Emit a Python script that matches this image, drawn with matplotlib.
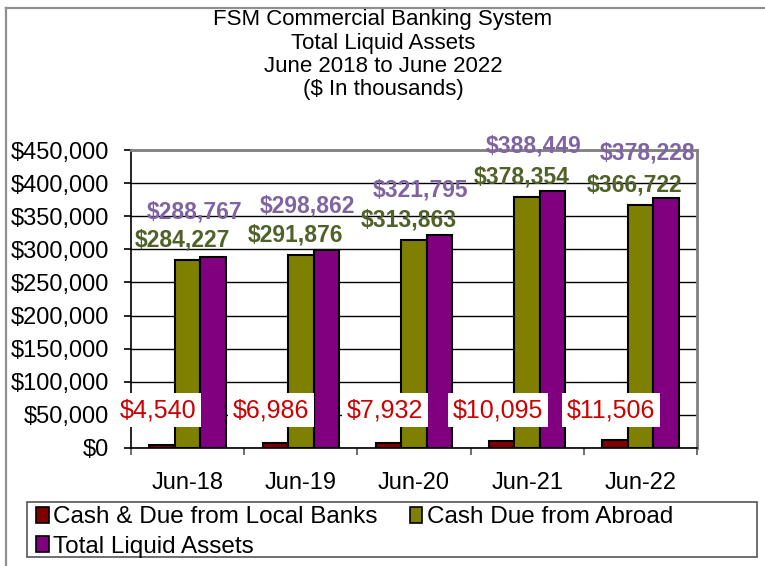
import numpy as np
import matplotlib
matplotlib.use('Agg')
import matplotlib.pyplot as plt
from matplotlib.ticker import FuncFormatter, MultipleLocator
from matplotlib.lines import Line2D
from matplotlib.patches import Rectangle, Patch

plt.rcParams['font.family'] = ['Liberation Sans', 'DejaVu Sans']

# Data (thousands of dollars)
periods = ['Jun-18', 'Jun-19', 'Jun-20', 'Jun-21', 'Jun-22']
cash_local = [4540, 6986, 7932, 10095, 11506]
cash_abroad = [284227, 291876, 313863, 378354, 366722]
total_liquid = [288767, 298862, 321795, 388449, 378228]

series_names = ['Cash & Due from Local Banks', 'Cash Due from Abroad', 'Total Liquid Assets']
bar_colors = ['#800000', '#808000', '#800080']
label_colors = ['#cc0000', '#4f6228', '#8064a2']
title_lines = ['FSM Commercial Banking System', 'Total Liquid Assets',
               'June 2018 to June 2022', '($ In thousands)']

W, H = 765, 566
fig = plt.figure(figsize=(W / 100, H / 100), dpi=100)
ax = fig.add_axes([131 / W, 1 - 448 / H, (697 - 131) / W, (448 - 150) / H])

x = np.arange(len(periods))
width = 0.225

ax.bar(x - width, cash_local, width, color=bar_colors[0], edgecolor='black', linewidth=1.5, zorder=3)
ax.bar(x, cash_abroad, width, color=bar_colors[1], edgecolor='black', linewidth=1.5, zorder=3)
ax.bar(x + width, total_liquid, width, color=bar_colors[2], edgecolor='black', linewidth=1.5, zorder=3)

ax.set_xlim(-0.5, len(periods) - 0.5)
ax.set_ylim(0, 450000)
ax.yaxis.set_major_locator(MultipleLocator(50000))
ax.yaxis.set_major_formatter(FuncFormatter(lambda v, p: f'${v:,.0f}'))
ax.grid(axis='y', color='black', linewidth=1.0, zorder=0)

ax.set_xticks(x)
ax.set_xticklabels(periods)
ax.set_xticks(np.arange(len(periods) + 1) - 0.5, minor=True)
ax.tick_params(axis='x', which='major', length=0, pad=17, labelsize=17)
ax.tick_params(axis='x', which='minor', length=5, width=1.2, color='#555555')
ax.tick_params(axis='y', length=5, width=1.2, pad=11, labelsize=17)

for side in ['top', 'right']:
    ax.spines[side].set_color('#808080')
    ax.spines[side].set_linewidth(2)
ax.spines['left'].set_linewidth(1.2)
ax.spines['bottom'].set_linewidth(1.2)
ax.spines['bottom'].set_zorder(4)

# value labels
for i in range(len(periods)):
    ax.text(x[i] - 0.26, 0.1275, f'${cash_local[i]:,}', transform=ax.get_xaxis_transform(),
            ha='center', va='center', fontsize=18, color=label_colors[0], zorder=5,
            bbox=dict(facecolor='white', edgecolor='none', pad=3.5))
    ax.annotate(f'${cash_abroad[i]:,}', (x[i] - 0.05, cash_abroad[i]), xytext=(0, 14.5),
                textcoords='offset points', ha='center', va='center', fontsize=16.5,
                fontweight='bold', color=label_colors[1], zorder=5, annotation_clip=False)
    ax.annotate(f'${total_liquid[i]:,}', (x[i] + 0.06, total_liquid[i]), xytext=(0, 32),
                textcoords='offset points', ha='center', va='center', fontsize=16.5,
                fontweight='bold', color=label_colors[2], zorder=5, annotation_clip=False)

for k, line in enumerate(title_lines):
    fig.text(383 / W, 1 - (20 + 23.3 * k) / H, line, ha='center', va='center', fontsize=16)

# outer frame (gray, left and top visible)
fig.add_artist(Line2D([6 / W, 6 / W], [0, 1 - 8 / H], color='#909090', linewidth=1.6))
fig.add_artist(Line2D([6 / W, 1], [1 - 8 / H, 1 - 8 / H], color='#909090', linewidth=1.6))

# legend box
fig.add_artist(Rectangle((27 / W, 1 - 557 / H), (757 - 27) / W, 55 / H, transform=fig.transFigure,
                         facecolor='white', edgecolor='#555555', linewidth=1.2))
handles = [Patch(facecolor=c, edgecolor='black', linewidth=1.2) for c in bar_colors]
order = [0, 2, 1]
fig.legend([handles[i] for i in order], [series_names[i] for i in order],
           loc='upper left', bbox_to_anchor=(34 / W, 1 - 504 / H), ncol=2, frameon=False,
           fontsize=17.5, handlelength=0.5, handleheight=0.6, handletextpad=0.2,
           columnspacing=1.3, labelspacing=0.3, borderpad=0.1, borderaxespad=0)

fig.savefig('out.png', dpi=100)
